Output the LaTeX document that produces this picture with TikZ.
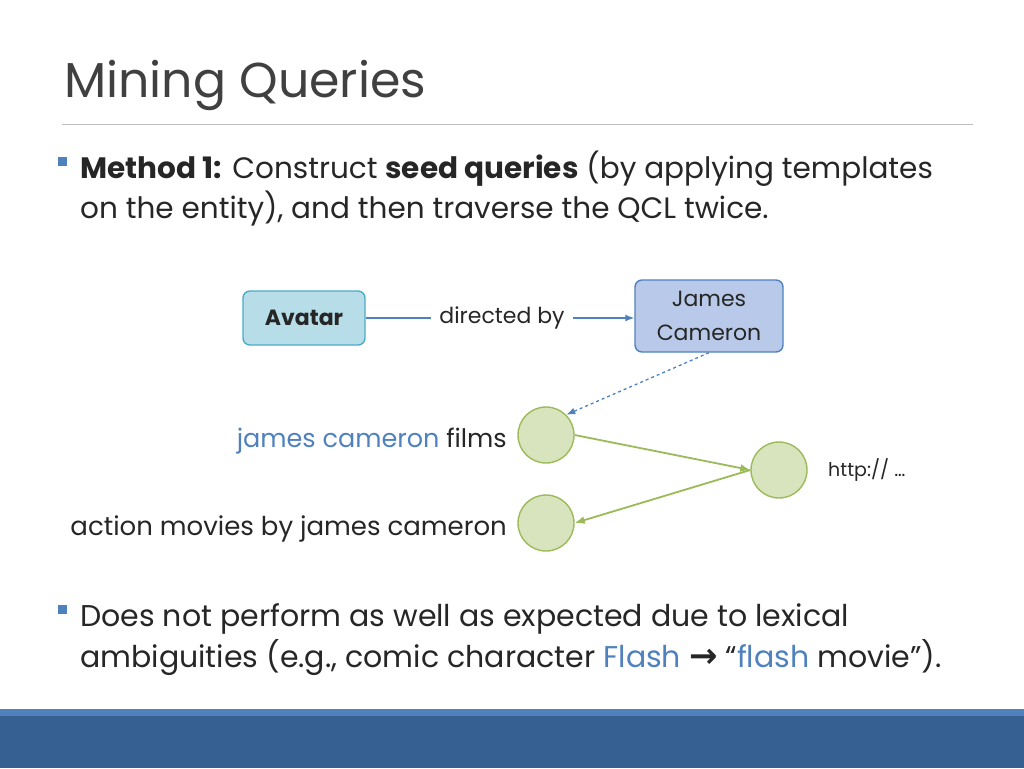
\documentclass[tikz,border=0pt]{standalone}
\usepackage{fontspec}
\setmainfont{Poppins}
\newfontfamily\symfont{DejaVu Sans}
\usetikzlibrary{positioning,arrows.meta}

\definecolor{titlegray}{HTML}{404040}
\definecolor{bodytext}{HTML}{262626}
\definecolor{rulegray}{HTML}{BFBFBF}
\definecolor{qblue}{HTML}{4F81BD}
\definecolor{tealfill}{HTML}{B7DEE8}
\definecolor{tealline}{HTML}{4BACC6}
\definecolor{jcfill}{HTML}{B9C9E9}
\definecolor{qgreen}{HTML}{D7E4BD}
\definecolor{qgreenline}{HTML}{9BBB59}
\definecolor{barlight}{HTML}{4F81BD}
\definecolor{bardark}{HTML}{376092}

\begin{document}
\begin{tikzpicture}[x=1pt, y=-1pt,
    txt/.style={inner sep=0pt, text=bodytext},
    bullet/.style={fill=qblue, minimum size=9pt, inner sep=0pt},
    entity/.style={rounded corners=7pt, line width=1.4pt, align=center, inner sep=0pt,
      font=\fontsize{22}{34}\selectfont, text=bodytext},
    query/.style={circle, minimum size=56pt, inner sep=0pt, fill=qgreen,
      draw=qgreenline, line width=1.4pt},
    link/.style={draw=qblue, line width=1.3pt},
    walk/.style={draw=qgreenline, line width=1.8pt, -{Latex[length=10pt,width=8pt]}}]
  \useasboundingbox (0,0) rectangle (1024,768);

  % title and rule
  \node[txt, text=titlegray, anchor=base west, font=\fontsize{49}{54}\selectfont] (title) at (64,97) {Mining Queries};
  \draw[rulegray, line width=0.8pt] (62,124) -- (973,124);

  % first bullet
  \node[bullet] (b1) at (62,161) {};
  \node[txt, anchor=base west, font=\fontsize{29.5}{40}\selectfont] (m1a) at (80,178)
    {\textbf{Method 1:} Construct \textbf{seed queries} (by applying templates};
  \node[txt, anchor=base west, font=\fontsize{29.5}{40}\selectfont] (m1b) at (80,218)
    {on the entity), and then traverse the QCL twice.};

  % entity graph
  \node[entity, fill=tealfill, draw=tealline, minimum width=122pt, minimum height=54pt] (avatar) at (304,318) {\textbf{Avatar}};
  \node[entity, fill=jcfill, draw=qblue, minimum width=148pt, minimum height=72pt] (jc) at (709,316) {James\\Cameron};
  \node[txt, inner xsep=8pt, font=\fontsize{22}{28}\selectfont] (dir) at (502,318) {directed by};
  \draw[link] (avatar.east) -- (dir.west);
  \draw[link, -{Latex[length=9pt,width=7pt]}] (dir.east) -- (dir.east -| jc.west);

  % query log walk
  \node[query] (c1) at (546,435) {};
  \node[query] (c2) at (779,470) {};
  \node[query] (c3) at (546,523) {};
  \draw[link, dashed, -{Latex[length=9pt,width=7pt]}] (jc.south) -- (c1.north east);
  \draw[walk] (c1.east) -- (c2.west);
  \draw[walk] (c2.west) -- (c3.east);
  \node[txt, anchor=base east, font=\fontsize{25.5}{30}\selectfont] (q1) at (507,447)
    {\textcolor{qblue}{james cameron} films};
  \node[txt, anchor=base east, font=\fontsize{26}{30}\selectfont] (q2) at (507,535)
    {action movies by james cameron};
  \node[txt, anchor=west, font=\fontsize{19}{24}\selectfont] (url) at (828,470) {http:// \ldots};

  % second bullet
  \node[bullet] (b2) at (62,609) {};
  \node[txt, anchor=base west, font=\fontsize{30}{40}\selectfont] (m2a) at (80,626)
    {Does not perform as well as expected due to lexical};
  \node[txt, anchor=base west, font=\fontsize{30}{40}\selectfont] (m2b) at (80,667)
    {ambiguities (e.g., comic character \textcolor{qblue}{Flash} {\symfont\bfseries\fontsize{34}{40}\selectfont→} “\textcolor{qblue}{flash} movie”).};

  % footer bar
  \fill[barlight] (0,709) rectangle (1024,716);
  \fill[bardark] (0,716) rectangle (1024,768);
\end{tikzpicture}
\end{document}
